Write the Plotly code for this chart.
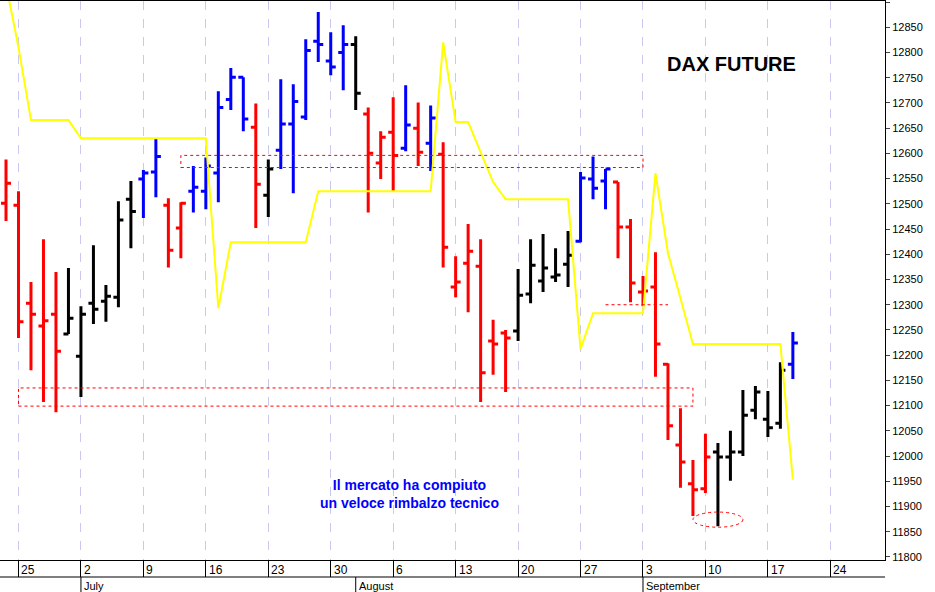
import pandas as pd
import plotly.graph_objects as go

# --- daily bars ---
dates = pd.bdate_range("2018-06-22", "2018-09-19")
opens = [12501, 12497, 12303, 12258, 12281, 12242, 12198, 12303, 12307, 12315, 12509,
         12549, 12563, 12497, 12452, 12525, 12525, 12561, 12707, 12751, 12652,
         12517, 12606, 12658, 12672, 12822, 12783, 12800, 12816, 12678, 12581,
         12642, 12610, 12650, 12620, 12598, 12335, 12382, 12376, 12228, 12244,
         12248, 12321, 12347, 12355, 12380, 12426, 12549, 12545, 12543, 12454,
         12325, 12335, 12182, 12022, 11945, 11935, 12008, 11998, 12008, 12091,
         12073, 12065, 12182]
highs = [12588, 12525, 12345, 12430, 12365, 12373, 12297, 12418, 12339, 12505, 12545,
         12567, 12630, 12511, 12503, 12575, 12592, 12723, 12769, 12751, 12699,
         12588, 12747, 12737, 12826, 12880, 12840, 12854, 12832, 12691, 12644,
         12711, 12735, 12701, 12695, 12622, 12396, 12460, 12430, 12270, 12250,
         12371, 12430, 12440, 12412, 12446, 12563, 12594, 12569, 12543, 12470,
         12357, 12404, 12184, 12095, 11992, 12044, 12026, 12050, 12131, 12139,
         12129, 12186, 12246]
lows = [12466, 12234, 12170, 12107, 12087, 12242, 12117, 12262, 12266, 12295, 12412,
        12472, 12513, 12374, 12392, 12483, 12489, 12503, 12686, 12644, 12452,
        12474, 12569, 12521, 12666, 12781, 12755, 12725, 12686, 12483, 12549,
        12525, 12604, 12575, 12565, 12374, 12315, 12285, 12107, 12161, 12127,
        12228, 12303, 12325, 12345, 12335, 12424, 12509, 12489, 12392, 12305,
        12297, 12157, 12032, 11937, 11881, 11927, 11861, 11951, 12000, 12073,
        12038, 12054, 12153]
closes = [12541, 12266, 12281, 12268, 12208, 12273, 12281, 12291, 12317, 12468, 12485,
          12561, 12594, 12408, 12501, 12533, 12575, 12691, 12751, 12668, 12539,
          12569, 12658, 12703, 12804, 12816, 12771, 12816, 12719, 12600, 12632,
          12596, 12656, 12602, 12670, 12414, 12345, 12406, 12165, 12222, 12234,
          12319, 12378, 12373, 12359, 12398, 12551, 12531, 12569, 12454, 12343,
          12327, 12222, 12060, 11988, 11933, 11998, 11998, 12008, 12081, 12127,
          12056, 12170, 12224]
# R = red, K = black, B = blue
bar_colors = list("RRRRRKKKKKKBBRRBBBBBRKBBBBBBKRRRBRBRRRRRRKKKKKBBBRRRRRRRRKKKKKKB")
# yellow stop line
stop_line = [12935, 12810, 12666, 12666, 12666, 12666, 12630, 12630, 12630, 12630, 12630,
             12630, 12630, 12630, 12630, 12630, 12630, 12293, 12424, 12424, 12424,
             12424, 12424, 12424, 12424, 12525, 12525, 12525, 12525, 12525, 12525,
             12525, 12525, 12525, 12525, 12820, 12662, 12662, 12602, 12543, 12509,
             12509, 12509, 12509, 12509, 12509, 12212, 12283, 12283, 12283, 12283,
             12283, 12561, 12402, 12313, 12222, 12222, 12222, 12222, 12222, 12222,
             12222, 12222, 11953]

# trading-day axis: Mondays (incl. the future week of Sep 24) get a tick
all_days = pd.bdate_range("2018-06-22", "2018-09-28")
day_idx = {d: i for i, d in enumerate(all_days)}
mondays = [d for d in all_days if d.weekday() == 0]
months = [("2018-07-02", "July"), ("2018-08-01", "August"), ("2018-09-03", "September")]

df = pd.DataFrame(dict(x=[day_idx[d] for d in dates], o=opens, h=highs, l=lows,
                       c=closes, col=bar_colors))
palette = {"R": "#ff0000", "K": "#000000", "B": "#0000ff"}

fig = go.Figure()
fig.add_trace(go.Scatter(x=df.x, y=stop_line, mode="lines",
                         line=dict(color="#ffff00", width=2), hoverinfo="skip"))
for key, color in palette.items():
    d = df[df.col == key]
    fig.add_trace(go.Ohlc(x=d.x, open=d.o, high=d.h, low=d.l, close=d.c,
                          increasing_line=dict(color=color, width=3),
                          decreasing_line=dict(color=color, width=3),
                          tickwidth=0.4))

# dashed red boxes / marks
def xi(s):
    return day_idx[pd.Timestamp(s)]

box = dict(type="rect", line=dict(color="red", width=1, dash="dot"), xref="x", yref="y")
fig.add_shape(**box, x0=xi("2018-07-12"), x1=xi("2018-09-03"), y0=12572, y1=12596)
fig.add_shape(**box, x0=xi("2018-06-25"), x1=xi("2018-09-07"), y0=12099, y1=12135)
fig.add_shape(type="line", xref="x", yref="y", x0=xi("2018-08-29"), x1=xi("2018-09-05"),
              y0=12300, y1=12300, line=dict(color="red", width=1, dash="dot"))
fig.add_shape(type="circle", xref="x", yref="y", x0=xi("2018-09-07"), x1=xi("2018-09-13"),
              y0=11859, y1=11889, line=dict(color="red", width=1, dash="dot"))

# day labels sit to the right of their tick lines
label_font = dict(size=12, color="black", family="Liberation Sans")
for m in mondays:
    fig.add_annotation(x=day_idx[m], y=0, xref="x", yref="paper", text=str(m.day),
                       showarrow=False, xanchor="left", yanchor="top", xshift=1, yshift=-1,
                       font=label_font)
row_y = -17 / 559
fig.add_shape(type="line", xref="paper", yref="paper", x0=0, x1=1, y0=row_y, y1=row_y,
              line=dict(color="black", width=1))
for m_date, m_name in months:
    fig.add_shape(type="line", xref="x", yref="paper", x0=xi(m_date), x1=xi(m_date),
                  y0=row_y, y1=-33 / 559, line=dict(color="black", width=1))
    fig.add_annotation(x=xi(m_date), y=row_y, xref="x", yref="paper", text=m_name,
                       showarrow=False, xanchor="left", yanchor="top", xshift=1, yshift=-1,
                       font=dict(size=11, color="black", family="Liberation Sans"))

fig.add_annotation(x=0.827, y=0.911, xref="paper", yref="paper", text="<b>DAX FUTURE</b>",
                   showarrow=False, xanchor="center",
                   font=dict(size=20, color="black", family="Liberation Sans"))
fig.add_annotation(x=0.463, y=0.084, xref="paper", yref="paper", xanchor="center",
                   text="<b>Il mercato ha compiuto<br>un veloce rimbalzo tecnico</b>",
                   showarrow=False, font=dict(size=14, color="#0000ff", family="Liberation Sans"))

px_per_day = 12.49
x0 = -6 / px_per_day
fig.update_layout(
    width=935, height=592, showlegend=False,
    margin=dict(l=0, r=50, t=1, b=32),
    plot_bgcolor="white", paper_bgcolor="white",
    font=dict(family="Liberation Sans", size=11, color="black"),
    xaxis=dict(
        rangeslider=dict(visible=False),
        range=[x0, x0 + 885 / px_per_day],
        tickvals=[day_idx[m] for m in mondays], showticklabels=False,
        ticks="outside", ticklen=16, tickcolor="black",
        showgrid=True, gridcolor="#c8c8f0", griddash="dash",
        showline=True, linecolor="black", mirror=True, zeroline=False,
    ),
    yaxis=dict(
        side="right", range=[11794, 12902], dtick=50, tick0=11800, tickformat="d",
        ticks="outside", ticklen=4, showgrid=False, showline=True, linecolor="black",
        zeroline=False,
    ),
)

# the default page has an 8px body margin; drop it so the figure fills the window
fig.write_html("out.html", config={"displayModeBar": False},
               post_script="document.body.style.margin='0';")
